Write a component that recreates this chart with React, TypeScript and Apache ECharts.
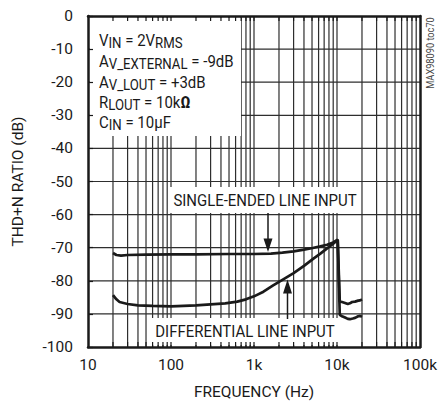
import React, { useEffect, useRef } from 'react';
import * as echarts from 'echarts';

const FONT = 'Roboto, "Liberation Sans", sans-serif';
const INK = '#1a1a1a';
const GRID = '#2e2e2e';
const SX = 0.88;

const xTickValues = [10, 100, 1000, 10000, 100000];
const xTickLabels = ['10', '100', '1k', '10k', '100k'];
const yGridValues = [-10, -20, -30, -40, -50, -60, -70, -80, -90];
const gridFreqs = [
  20, 30, 40, 50, 60, 70, 80, 90,
  100, 200, 300, 400, 500, 600, 700, 800, 900,
  1000, 2000, 3000, 4000, 5000, 6000, 7000, 8000, 9000,
  10000, 20000, 30000, 40000, 50000, 60000, 70000, 80000, 90000,
];

const seFreq = [20, 22, 25, 30, 50, 100, 200, 500, 1000, 1600, 2200, 3000, 4000, 5100, 6300, 7600, 9000, 10200, 10800, 11500, 12500, 13500, 14300, 15200, 16500, 18000, 19000, 20000];
const seThd = [-71.6, -72.2, -72.4, -72.2, -72.1, -72.0, -72.0, -71.9, -71.9, -71.8, -71.5, -71.1, -70.6, -70.1, -69.6, -69.1, -68.4, -67.6, -86.3, -86.4, -86.7, -87.0, -86.8, -86.4, -86.3, -86.0, -85.9, -85.6];

const diffFreq = [20, 22, 24, 30, 40, 60, 100, 200, 300, 450, 630, 800, 1000, 1300, 1700, 2200, 3000, 4000, 5200, 6300, 7600, 9000, 10200, 10800, 11500, 12500, 13500, 14300, 15500, 16500, 18000, 19000, 20000];
const diffThd = [-84.3, -85.6, -86.4, -87.0, -87.4, -87.6, -87.7, -87.4, -87.1, -86.8, -86.3, -85.6, -84.7, -83.3, -81.4, -79.7, -77.7, -75.5, -73.3, -71.8, -70.2, -68.8, -67.6, -90.3, -90.7, -91.1, -91.5, -91.6, -91.4, -91.2, -90.7, -90.6, -90.9];

const boxLines = [
  '{a|V}{s|IN}{a| = 2V}{s|RMS}',
  '{a|A}{s|V_EXTERNAL}{a| = -9dB}',
  '{a|A}{s|V_LOUT}{a| = +3dB}',
  '{a|R}{s|LOUT}{a| = 10k}{b|Ω}',
  '{a|C}{s|IN}{a| = 10µF}',
];

const rich = {
  a: { fontFamily: FONT, fontSize: 17, lineHeight: 20, fill: INK, color: INK },
  s: { fontFamily: FONT, fontSize: 15, lineHeight: 15, verticalAlign: 'bottom', fill: INK, color: INK },
  b: { fontFamily: FONT, fontSize: 17, lineHeight: 20, fontWeight: 'bold', fill: INK, color: INK },
};

export default function App() {
  const ref = useRef<HTMLDivElement>(null);
  useEffect(() => {
    if (!ref.current) return;
    const chart = echarts.init(ref.current, undefined, { renderer: 'svg' });
    const frameLine = { show: true, onZero: false, lineStyle: { color: INK, width: 2.5 } };
    const labelStyle = { fontFamily: FONT, fontSize: 15.5, color: INK };
    chart.setOption({
      animation: false,
      backgroundColor: '#fff',
      grid: { left: 88, right: 25, top: 16, bottom: 62, containLabel: false },
      xAxis: [
        {
          type: 'log', logBase: 10, min: 10, max: 100000, position: 'bottom', z: 5,
          axisLine: frameLine, axisTick: { show: false }, splitLine: { show: false },
          axisLabel: {
            ...labelStyle, margin: 10,
            formatter: (v: number) => xTickLabels[xTickValues.findIndex((t) => Math.abs(Math.log10(t) - Math.log10(v)) < 1e-6)] ?? '',
          },
          name: 'FREQUENCY (Hz)', nameLocation: 'middle', nameGap: 37,
          nameTextStyle: { ...labelStyle },
        },
        {
          type: 'log', logBase: 10, min: 10, max: 100000, position: 'top', z: 5,
          axisLine: frameLine, axisTick: { show: false }, splitLine: { show: false }, axisLabel: { show: false },
        },
      ],
      yAxis: [
        {
          type: 'value', min: -100, max: 0, interval: 10, position: 'left', z: 5,
          axisLine: frameLine,
          axisTick: { show: true, inside: true, length: 5, lineStyle: { color: INK, width: 1.2 } },
          splitLine: { show: false },
          axisLabel: { ...labelStyle, margin: 15 },
          name: 'THD+N RATIO (dB)', nameLocation: 'middle', nameGap: 62, nameRotate: 90,
          nameTextStyle: { ...labelStyle },
        },
        {
          type: 'value', min: -100, max: 0, interval: 10, position: 'right', z: 5,
          axisLine: frameLine, axisTick: { show: false }, splitLine: { show: false }, axisLabel: { show: false },
        },
      ],
      series: [
        {
          type: 'custom', z: 0, silent: true, clip: false,
          data: gridFreqs.map((f) => [f, 0]),
          encode: { x: 0, y: 1 },
          renderItem: (_p: any, api: any) => {
            const f = api.value(0);
            const a = api.coord([f, 0]);
            const b = api.coord([f, -100]);
            return { type: 'line', shape: { x1: a[0], y1: a[1], x2: b[0], y2: b[1] }, style: { stroke: GRID, lineWidth: 1.2 } };
          },
        },
        {
          type: 'custom', z: 0, silent: true, clip: false,
          data: yGridValues.map((v) => [10, v]),
          encode: { x: 0, y: 1 },
          renderItem: (_p: any, api: any) => {
            const v = api.value(1);
            const a = api.coord([10, v]);
            const b = api.coord([100000, v]);
            return { type: 'line', shape: { x1: a[0], y1: a[1], x2: b[0], y2: b[1] }, style: { stroke: GRID, lineWidth: 1.2 } };
          },
        },
        {
          type: 'custom', z: 2, silent: true, clip: false,
          data: gridFreqs.map((f) => [f, 0]),
          encode: { x: 0, y: 1 },
          renderItem: (_p: any, api: any) => {
            const f = api.value(0);
            const a = api.coord([f, 0]);
            const b = api.coord([f, -100]);
            const st = { stroke: INK, lineWidth: 1.2 };
            return {
              type: 'group',
              children: [
                { type: 'line', shape: { x1: a[0], y1: a[1], x2: a[0], y2: a[1] + 5 }, style: st },
                { type: 'line', shape: { x1: b[0], y1: b[1], x2: b[0], y2: b[1] - 5 }, style: st },
              ],
            };
          },
        },
        {
          name: 'SINGLE-ENDED LINE INPUT', type: 'line', z: 4, showSymbol: false, symbol: 'none',
          data: seFreq.map((f, i) => [f, seThd[i]]),
          lineStyle: { color: INK, width: 2.7 },
        },
        {
          name: 'DIFFERENTIAL LINE INPUT', type: 'line', z: 4, showSymbol: false, symbol: 'none',
          data: diffFreq.map((f, i) => [f, diffThd[i]]),
          lineStyle: { color: INK, width: 2.7 },
        },
      ],
      graphic: [
        { type: 'rect', z: 1, silent: true, shape: { x: 90, y: 18, width: 151, height: 118 }, style: { fill: '#fff' } },
        { type: 'rect', z: 1, silent: true, shape: { x: 168, y: 187, width: 192, height: 26 }, style: { fill: '#fff' } },
        { type: 'rect', z: 1, silent: true, shape: { x: 147, y: 318, width: 194, height: 27 }, style: { fill: '#fff' } },
        ...boxLines.map((t, i) => ({
          type: 'text', z: 6, silent: true, x: 99, y: [40, 61, 82, 102, 122][i] + 0.5, scaleX: SX,
          style: { text: t, rich, align: 'left', verticalAlign: 'middle', fill: INK },
        })),
        {
          type: 'text', z: 6, silent: true, x: 265, y: 200, scaleX: SX,
          style: { text: 'SINGLE-ENDED LINE INPUT', fontFamily: FONT, fontSize: 17, fill: INK, align: 'center', verticalAlign: 'middle' },
        },
        {
          type: 'text', z: 6, silent: true, x: 245, y: 331, scaleX: SX,
          style: { text: 'DIFFERENTIAL LINE INPUT', fontFamily: FONT, fontSize: 17, fill: INK, align: 'center', verticalAlign: 'middle' },
        },
        { type: 'line', z: 6, silent: true, shape: { x1: 268, y1: 213, x2: 268, y2: 240 }, style: { stroke: INK, lineWidth: 1.5 } },
        { type: 'polygon', z: 6, silent: true, shape: { points: [[263.5, 238.5], [272.5, 238.5], [268, 252]] }, style: { fill: INK } },
        { type: 'line', z: 6, silent: true, shape: { x1: 287.5, y1: 292, x2: 287.5, y2: 319 }, style: { stroke: INK, lineWidth: 1.5 } },
        { type: 'polygon', z: 6, silent: true, shape: { points: [[283, 293.5], [292, 293.5], [287.5, 279.5]] }, style: { fill: INK } },
        {
          type: 'text', z: 6, silent: true, x: 430, y: 53, rotation: Math.PI / 2, scaleX: SX,
          style: { text: 'MAX98090 toc70', fontFamily: FONT, fontSize: 10.5, fill: '#444', align: 'center', verticalAlign: 'middle' },
        },
      ],
    });
    return () => chart.dispose();
  }, []);
  return <div ref={ref} style={{ width: 445, height: 409, position: 'absolute', left: 0, top: 0 }} />;
}
